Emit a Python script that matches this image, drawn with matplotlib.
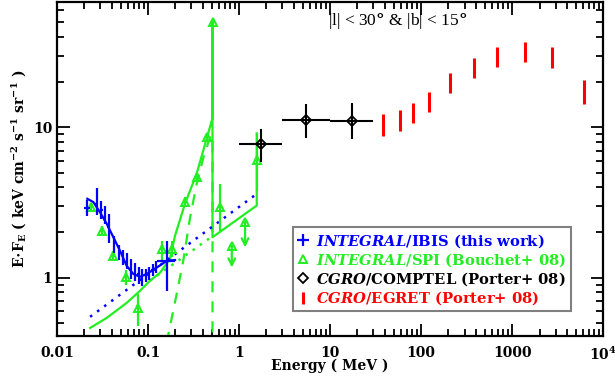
import numpy as np
import matplotlib
matplotlib.use("Agg")
import matplotlib.pyplot as plt
from matplotlib.lines import Line2D
from matplotlib.ticker import FixedLocator, FixedFormatter, NullFormatter, LogLocator

plt.rcParams['font.family'] = ['DejaVu Serif']
plt.rcParams['font.weight'] = 'bold'
plt.rcParams['mathtext.fontset'] = 'custom'
plt.rcParams['mathtext.rm'] = 'DejaVu Serif:bold'
plt.rcParams['mathtext.it'] = 'DejaVu Serif:italic:bold'

BLUE = "#0000ff"
GREEN = "#22ee22"
RED = "#ff0000"

# === INTEGRAL/IBIS (this work) ===
ibis_e = [0.0214, 0.0272, 0.0308, 0.0336, 0.0368, 0.0423, 0.0480, 0.0531, 0.0587,
          0.0650, 0.0719, 0.0787, 0.0859, 0.0940, 0.1026, 0.112, 0.1224, 0.162]
ibis_elo = [0.0198, 0.0262, 0.0298, 0.0326, 0.0357, 0.0410, 0.0466, 0.0515, 0.0570,
            0.0631, 0.0698, 0.0764, 0.0834, 0.0912, 0.0996, 0.1087, 0.1188, 0.1256]
ibis_ehi = [0.0232, 0.0282, 0.0318, 0.0346, 0.0379, 0.0436, 0.0494, 0.0547, 0.0605,
            0.0670, 0.0741, 0.0811, 0.0885, 0.0968, 0.1057, 0.1154, 0.1261, 0.198]
ibis_f = [2.93, 3.11, 2.84, 2.63, 2.19, 1.69, 1.49, 1.38, 1.30,
          1.18, 1.11, 1.06, 1.03, 1.05, 1.08, 1.13, 1.18, 1.30]
ibis_flo = [2.59, 2.63, 2.47, 2.29, 1.69, 1.47, 1.32, 1.22, 1.15,
            0.985, 0.955, 0.912, 0.884, 0.94, 0.97, 1.03, 1.08, 0.82]
ibis_fhi = [3.31, 3.92, 3.26, 3.02, 2.67, 1.88, 1.66, 1.54, 1.47,
            1.34, 1.26, 1.18, 1.15, 1.15, 1.18, 1.24, 1.30, 1.76]

# IBIS model (solid) and power-law component (dotted)
ibis_model_e = [0.0215, 0.0251, 0.0297, 0.0352, 0.0416, 0.0492, 0.0583, 0.0689,
                0.0817, 0.0969, 0.125, 0.162, 0.198]
ibis_model_f = [3.35, 3.18, 2.72, 2.28, 1.86, 1.51, 1.20, 1.06,
                1.015, 1.06, 1.17, 1.30, 1.31]
ibis_pl_e = [0.0231, 1.565]
ibis_pl_f = [0.55, 3.61]

# === INTEGRAL/SPI (Bouchet+ 08) ===
spi_e = [0.0237, 0.031, 0.0416, 0.0566, 0.0768, 0.141, 0.182, 0.255, 0.343,
         0.4416, 0.511, 0.618, 1.565]
spi_f = [2.97, 2.06, 1.40, 1.005, 0.631, 1.55, 1.55, 3.18, 4.66,
         8.61, 50.0, 2.94, 6.03]
spi_flo = [2.80, 1.92, 1.30, 0.90, 0.479, 1.30, 1.37, 2.95, 4.35,
           8.05, 48.0, 2.06, 3.8]
spi_fhi = [3.15, 2.20, 1.50, 1.12, 0.782, 1.76, 1.76, 3.42, 5.00,
           9.20, 52.0, 4.21, 9.1]
spi_ul_e = [0.832, 1.164]
spi_ul_f = [1.63, 2.34]
spi_ul_end = [1.17, 1.59]

# SPI total model (solid), positronium continuum (dashed), power law (dotted)
spi_model_e = [0.0231, 0.0352, 0.0583, 0.0817, 0.105, 0.1356, 0.1746, 0.198, 0.255,
               0.343, 0.4416, 0.511, 0.511, 0.511, 1.565, 1.565]
spi_model_f = [0.464, 0.541, 0.681, 0.819, 0.955, 1.08, 1.34, 1.905, 3.11,
               4.94, 8.45, 11.5, 50.0, 1.86, 3.02, 9.1]
ps_e = [0.16, 0.2065, 0.244, 0.2896, 0.343, 0.406, 0.480, 0.511, 0.511]
ps_f = [0.37, 0.782, 1.30, 2.51, 4.23, 6.31, 8.58, 8.9, 0.3]
spi_pl_e = [0.105, 0.505]
spi_pl_f = [0.955, 1.88]

# === CGRO/COMPTEL (Porter+ 08) ===
comptel_e = [1.732, 5.48, 17.3]
comptel_elo = [1.0, 3.0, 10.0]
comptel_ehi = [3.0, 10.0, 30.0]
comptel_f = [7.79, 11.25, 10.96]
comptel_flo = [5.87, 8.54, 8.41]
comptel_fhi = [9.8, 14.2, 14.4]

# === CGRO/EGRET (Porter+ 08) ===
egret_e = [38.5, 58.8, 82.3, 122, 208, 382, 689, 1390, 2773, 6234]
egret_flo = [8.71, 9.45, 10.68, 12.65, 17.0, 21.4, 25.2, 27.2, 24.6, 14.2]
egret_fhi = [12.34, 12.98, 14.52, 17.2, 22.8, 28.7, 34.0, 37.0, 34.3, 20.6]

fig = plt.figure(figsize=(6.15, 3.83), dpi=100)
ax = fig.add_axes([0.0927, 0.1227, 0.888, 0.872])
ax.set_xscale('log')
ax.set_yscale('log')

# SPI models
ax.plot(spi_model_e, spi_model_f, color=GREEN, lw=1.6, zorder=2)
ax.plot(ps_e, ps_f, color=GREEN, lw=1.6, ls=(0, (5, 4)), zorder=2)
ax.plot(spi_pl_e, spi_pl_f, color=GREEN, lw=1.8, ls=(0, (1, 2.5)), zorder=2)

# IBIS models
ax.plot(ibis_pl_e, ibis_pl_f, color=BLUE, lw=1.8, ls=(0, (1, 2.5)), zorder=2)
ax.plot(ibis_model_e, ibis_model_f, color=BLUE, lw=1.6, zorder=4)

# SPI data
spi_e_a = np.array(spi_e)
spi_f_a = np.array(spi_f)
ax.errorbar(spi_e_a, spi_f_a,
            yerr=[spi_f_a - np.array(spi_flo), np.array(spi_fhi) - spi_f_a],
            xerr=[spi_e_a * 0.04, spi_e_a * 0.04],
            fmt='^', ms=6, mfc='none', mec=GREEN, mew=1.4, color=GREEN,
            elinewidth=1.6, capsize=0, zorder=3)
ax.plot(spi_ul_e, spi_ul_f, ls='none', marker='^', ms=6, mfc='none', mec=GREEN, mew=1.4, zorder=3)
for e, f0, f1 in zip(spi_ul_e, spi_ul_f, spi_ul_end):
    ax.annotate('', xy=(e, f1), xytext=(e, f0),
                arrowprops=dict(arrowstyle='->', color=GREEN, lw=1.6,
                                mutation_scale=12, shrinkA=0, shrinkB=0))
    ax.plot([e * 0.96, e * 1.04], [f0, f0], color=GREEN, lw=1.6, zorder=3)

# IBIS data
ibis_e_a = np.array(ibis_e)
ibis_f_a = np.array(ibis_f)
ax.errorbar(ibis_e_a, ibis_f_a,
            yerr=[ibis_f_a - np.array(ibis_flo), np.array(ibis_fhi) - ibis_f_a],
            xerr=[ibis_e_a - np.array(ibis_elo), np.array(ibis_ehi) - ibis_e_a],
            fmt='none', color=BLUE, elinewidth=1.6, capsize=0, zorder=5)

# COMPTEL data
ce = np.array(comptel_e)
cf = np.array(comptel_f)
ax.errorbar(ce, cf,
            yerr=[cf - np.array(comptel_flo), np.array(comptel_fhi) - cf],
            xerr=[ce - np.array(comptel_elo), np.array(comptel_ehi) - ce],
            fmt='D', ms=5, mfc='none', mec='black', mew=1.3, color='black',
            elinewidth=1.5, capsize=0, zorder=5)

# EGRET data
ax.vlines(egret_e, egret_flo, egret_fhi, color=RED, lw=2.2, zorder=5)

ax.set_xlim(0.01, 1e4)
ax.set_ylim(0.41, 68)

ax.xaxis.set_major_locator(FixedLocator([0.01, 0.1, 1, 10, 100, 1000, 1e4]))
ax.xaxis.set_major_formatter(FixedFormatter(['0.01', '0.1', '1', '10', '100', '1000', r'10$^4$']))
ax.xaxis.set_minor_locator(LogLocator(base=10, subs=np.arange(2, 10), numticks=20))
ax.xaxis.set_minor_formatter(NullFormatter())
ax.yaxis.set_major_locator(FixedLocator([1, 10]))
ax.yaxis.set_major_formatter(FixedFormatter(['1', '10']))
ax.yaxis.set_minor_locator(LogLocator(base=10, subs=np.arange(2, 10), numticks=20))
ax.yaxis.set_minor_formatter(NullFormatter())

ax.tick_params(which='both', direction='in', top=True, right=True, width=1.3, labelsize=10)
ax.tick_params(which='major', length=9)
ax.tick_params(which='minor', length=5)
ax.tick_params(axis='x', pad=7)
for s in ax.spines.values():
    s.set_linewidth(1.6)

ax.set_xlabel('Energy ( MeV )', fontsize=10, fontweight='bold', labelpad=-3)
ax.set_ylabel(r'E$\cdot$F$_{\rm E}$ ( keV cm$^{-2}$ s$^{-1}$ sr$^{-1}$ )', fontsize=10,
              fontweight='bold', labelpad=3)

ax.text(0.623, 0.943, r'|l| < 30$\degree$ & |b| < 15$\degree$', transform=ax.transAxes,
        ha='center', va='center', fontsize=12.5, fontweight='normal',
        family=['Liberation Serif', 'DejaVu Serif'])

handles = [
    Line2D([], [], ls='none', marker='+', color=BLUE, ms=8, mew=1.6),
    Line2D([], [], ls='none', marker='^', color=GREEN, mfc='none', ms=6, mew=1.4),
    Line2D([], [], ls='none', marker='D', color='black', mfc='none', ms=5, mew=1.3),
    Line2D([], [], ls='none', marker='|', color=RED, ms=8, mew=2.2),
]
labels = [
    r'$\it{INTEGRAL}$/IBIS (this work)',
    r'$\it{INTEGRAL}$/SPI (Bouchet+ 08)',
    r'$\it{CGRO}$/COMPTEL (Porter+ 08)',
    r'$\it{CGRO}$/EGRET (Porter+ 08)',
]
leg = ax.legend(handles, labels, loc='upper left', bbox_to_anchor=(0.432, 0.325),
                borderaxespad=0, fontsize=10.6, handlelength=0.8, handletextpad=0.5,
                labelspacing=0.1, borderpad=0.3, fancybox=False, framealpha=1)
leg.get_frame().set_edgecolor('gray')
leg.get_frame().set_linewidth(1.5)
for t, c in zip(leg.get_texts(), [BLUE, GREEN, 'black', RED]):
    t.set_color(c)

fig.savefig('out.png', dpi=100)
